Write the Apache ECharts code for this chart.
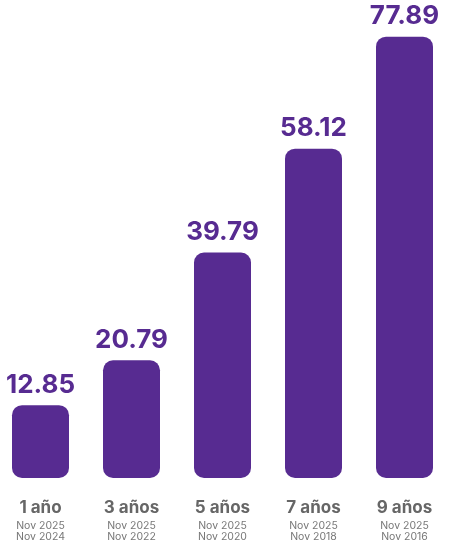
<!DOCTYPE html>
<html>
<head>
<meta charset="utf-8">
<script src="https://cdn.jsdelivr.net/npm/echarts@6/dist/echarts.min.js"></script>
<style>
html,body{margin:0;padding:0;background:#fff;}
#chart{width:450px;height:542px;}
</style>
</head>
<body>
<div id="chart"></div>
<script>
const categories = ['1 año', '3 años', '5 años', '7 años', '9 años'];
const fromDates = ['Nov 2025', 'Nov 2025', 'Nov 2025', 'Nov 2025', 'Nov 2025'];
const toDates = ['Nov 2024', 'Nov 2022', 'Nov 2020', 'Nov 2018', 'Nov 2016'];
const values = [12.85, 20.79, 39.79, 58.12, 77.89];

const chart = echarts.init(document.getElementById('chart'));
chart.setOption({
  animation: false,
  grid: { left: -5, width: 455, top: 24.7, bottom: 64, containLabel: false, outerBoundsMode: 'none' },
  xAxis: {
    type: 'category',
    data: categories,
    axisLine: { show: false },
    axisTick: { show: false },
    axisLabel: {
      interval: 0,
      margin: 17,
      formatter: function (v, i) {
        return '{a|' + v + '}\n{b|' + fromDates[i] + '}\n{b|' + toDates[i] + '}';
      },
      rich: {
        a: { fontFamily: 'Inter', fontWeight: 'bold', fontSize: 17, color: '#666666', lineHeight: 25 },
        b: { fontFamily: 'Inter', fontSize: 10.5, color: '#777777', lineHeight: 11 }
      }
    }
  },
  yAxis: {
    type: 'value',
    min: 0,
    max: 80,
    show: false,
    splitLine: { show: false }
  },
  series: [{
    type: 'bar',
    data: values,
    barWidth: 57,
    itemStyle: { color: '#572B91', borderRadius: 10 },
    label: {
      show: true,
      position: 'top',
      distance: 7,
      formatter: function (p) { return p.value.toFixed(2); },
      fontFamily: 'Inter',
      fontWeight: 'bold',
      fontSize: 26,
      color: '#572B91'
    }
  }]
});
</script>
</body>
</html>
